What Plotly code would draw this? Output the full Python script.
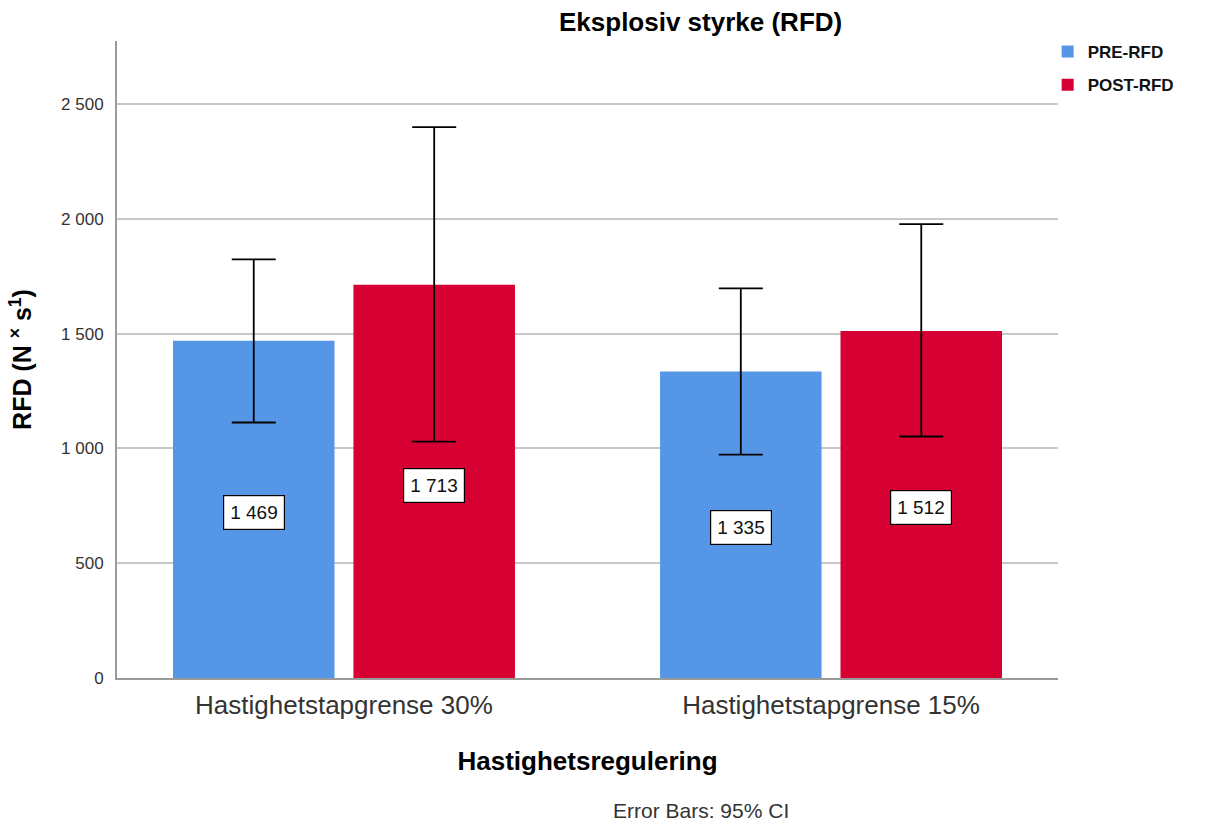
import plotly.graph_objects as go

categories = ["Hastighetstapgrense 30%", "Hastighetstapgrense 15%"]
pre_rfd = [1469, 1335]
post_rfd = [1713, 1512]
pre_ci_low = [1113, 973]
pre_ci_high = [1824, 1697]
post_ci_low = [1030, 1052]
post_ci_high = [2400, 1977]
y_ticks = [0, 500, 1000, 1500, 2000, 2500]

BLUE = "#5596E6"
RED = "#D60032"
FONT = "Liberation Sans, Arial, sans-serif"

PLOT_L, PLOT_R, PLOT_T, PLOT_B = 117, 1058, 41, 678
PLOT_W, PLOT_H = PLOT_R - PLOT_L, PLOT_B - PLOT_T


def fmt(v):
    return f"{v:,}".replace(",", " ")


def err(mean, lo, hi):
    return dict(
        type="data",
        symmetric=False,
        array=[h - m for m, h in zip(mean, hi)],
        arrayminus=[m - l for m, l in zip(mean, lo)],
        color="#000000",
        thickness=1.8,
        width=22,
    )


fig = go.Figure()
fig.add_trace(go.Bar(
    name="PRE-RFD", x=categories, y=pre_rfd, marker_color=BLUE,
    marker_line_width=0, legendgroup="pre",
    error_y=err(pre_rfd, pre_ci_low, pre_ci_high),
))
fig.add_trace(go.Bar(
    name="POST-RFD", x=categories, y=post_rfd, marker_color=RED,
    marker_line_width=0, legendgroup="post",
    error_y=err(post_rfd, post_ci_low, post_ci_high),
))

# value labels in boxes inside each bar
offset = 0.185
for i, (pv, qv) in enumerate(zip(pre_rfd, post_rfd)):
    for xpos, val in ((i - offset, pv), (i + offset, qv)):
        fig.add_annotation(
            x=xpos, y=val * 0.49, xref="x", yref="y",
            text=fmt(val), showarrow=False,
            font=dict(family=FONT, size=19, color="#111111"),
            bgcolor="#ffffff", bordercolor="#000000", borderwidth=1.2,
            borderpad=6,
        )

fig.add_annotation(
    x=(700 - PLOT_L) / PLOT_W, y=(PLOT_B - 22) / PLOT_H,
    xref="paper", yref="paper", yanchor="middle",
    text="<b>Eksplosiv styrke (RFD)</b>", showarrow=False,
    font=dict(family=FONT, size=26, color="#000000"),
)
fig.add_annotation(
    x=(701 - PLOT_L) / PLOT_W, y=(PLOT_B - 810) / PLOT_H,
    xref="paper", yref="paper", yanchor="middle",
    text="Error Bars: 95% CI", showarrow=False,
    font=dict(family=FONT, size=21, color="#333333"),
)

fig.update_layout(
    width=1209, height=823,
    margin=dict(l=PLOT_L, r=1209 - PLOT_R, t=PLOT_T, b=823 - PLOT_B),
    paper_bgcolor="#ffffff", plot_bgcolor="#ffffff",
    barmode="group", bargap=0.259, bargroupgap=0.105,
    separators=". ",
    showlegend=True,
    legend=dict(
        x=0.989, y=1.011, xanchor="left", yanchor="top",
        font=dict(family=FONT, size=17, color="#111111", weight="bold"),
        itemsizing="constant", tracegroupgap=8,
        bgcolor="rgba(0,0,0,0)",
    ),
    font=dict(family=FONT),
)
fig.update_xaxes(
    range=[-0.466, 1.466],
    showline=True, linecolor="#9a9a9a", linewidth=2,
    ticks="", showgrid=False, ticklabelstandoff=3,
    tickfont=dict(family=FONT, size=26, color="#333333"),
    title=dict(text="<b>Hastighetsregulering</b>",
               font=dict(family=FONT, size=26, color="#000000"),
               standoff=33),
)
fig.update_yaxes(
    range=[0, 2775], tickvals=y_ticks,
    ticktext=[fmt(v) for v in y_ticks],
    showline=True, linecolor="#9a9a9a", linewidth=2,
    showgrid=True, gridcolor="#c8c8c8", gridwidth=1.5,
    zeroline=False, ticks="", ticklabelstandoff=8,
    tickfont=dict(family=FONT, size=17, color="#333333"),
    title=dict(text="<b>RFD (N <sup>×</sup> s<sup>1</sup>)</b>",
               font=dict(family=FONT, size=25, color="#000000"),
               standoff=22),
)

fig.write_html("out.html")
